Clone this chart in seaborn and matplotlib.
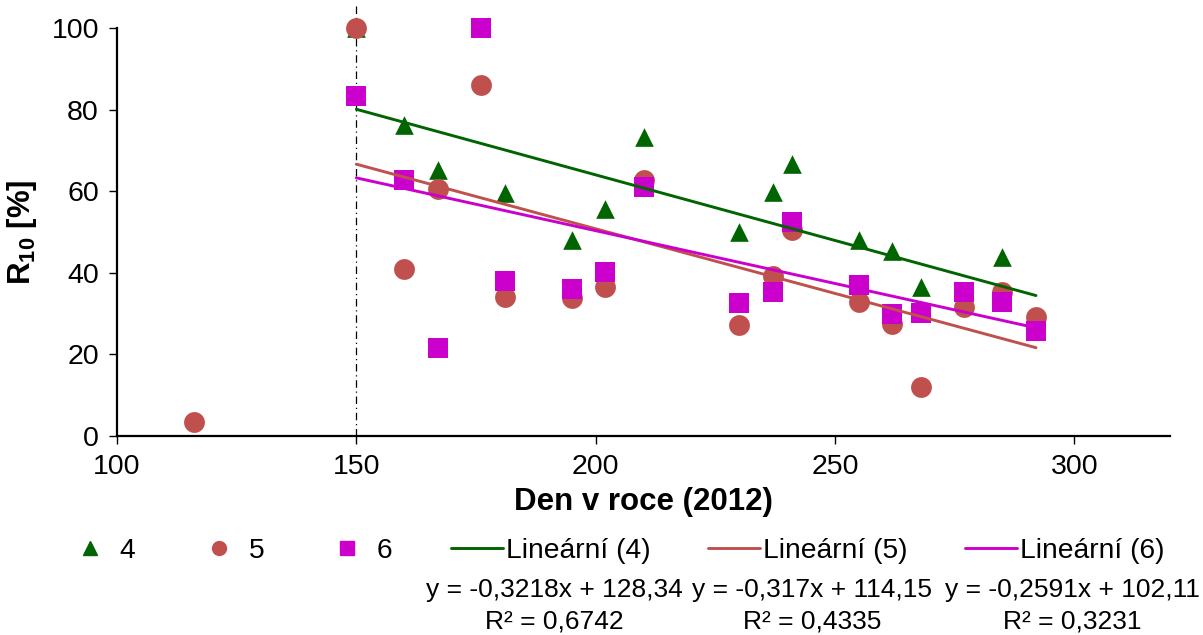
import numpy as np
import pandas as pd
import matplotlib
matplotlib.use("Agg")
import matplotlib.pyplot as plt
from matplotlib.lines import Line2D
import seaborn as sns

# Day of year (2012) and R10 values for the three sites
day4 = [150, 160, 167, 181, 195, 202, 210, 230, 237, 241, 255, 262, 268, 277, 285, 292]
r4 = [100, 76.1, 65.1, 59.6, 47.9, 55.7, 73.3, 49.9, 59.7, 66.7, 47.9, 45.3, 36.5, 35.5, 43.9, 28.0]

day5 = [150, 160, 167, 176, 181, 195, 202, 210, 230, 237, 241, 255, 262, 268, 277, 285, 292]
r5 = [100, 40.8, 60.6, 85.9, 34.1, 33.7, 36.4, 62.7, 27.2, 39.2, 50.5, 32.9, 27.4, 12.0, 31.5, 35.3, 29.2]

day6 = [150, 160, 167, 176, 181, 195, 202, 210, 230, 237, 241, 255, 262, 268, 277, 285, 292]
r6 = [83.2, 62.7, 21.4, 100, 38.0, 36.1, 40.2, 61.0, 32.6, 35.3, 52.3, 37.0, 29.9, 30.2, 35.2, 32.9, 25.8]

# Early measurement outside the fitted period
day_early = [116]
r_early = [3.4]

# Linear trend coefficients (slope, intercept, R^2)
slopes = [-0.3218, -0.317, -0.2591]
intercepts = [128.34, 114.15, 102.11]
r2_vals = [0.6742, 0.4335, 0.3231]

series_names = ["4", "5", "6"]
colors = ["#006400", "#C0504D", "#CC00CC"]
markers = ["^", "o", "s"]
sizes = [180, 225, 215]

x_ticks = [100, 150, 200, 250, 300]
y_ticks = [0, 20, 40, 60, 80, 100]
cutoff_day = 150

sns.set_style("ticks")
plt.rcParams["font.family"] = ["Liberation Sans", "DejaVu Sans"]
plt.rcParams["mathtext.fontset"] = "custom"
plt.rcParams["mathtext.rm"] = "Liberation Sans"
plt.rcParams["mathtext.bf"] = "Liberation Sans:bold"
for key in ["text.color", "axes.labelcolor", "xtick.color", "ytick.color"]:
    plt.rcParams[key] = "black"

W, H = 1203, 635
fig = plt.figure(figsize=(W / 100, H / 100), dpi=100)
ax = fig.add_axes([117 / W, 1 - 435.7 / H, (1170 - 117) / W, (435.7 - 28) / H])

# Vertical marker at the start of the fitted period
ax.plot([cutoff_day, cutoff_day], [0, 105.5], color="black", lw=0.9,
        ls=(0, (6, 3, 1, 3)), clip_on=False, zorder=2)

days = [day4, day5, day6]
vals = [r4, r5, r6]
for i in range(3):
    df = pd.DataFrame({"day": days[i], "r": vals[i]})
    sns.scatterplot(data=df, x="day", y="r", ax=ax, marker=markers[i],
                    color=colors[i], s=sizes[i], linewidth=0, clip_on=False,
                    zorder=3 + i, legend=False)

sns.scatterplot(x=day_early, y=r_early, ax=ax, marker="o", color=colors[1],
                s=sizes[1], linewidth=0, clip_on=False, zorder=4, legend=False)

# Trend lines across each series' range
for i in range(3):
    xs = np.array([min(days[i]), max(days[i])], dtype=float)
    tdf = pd.DataFrame({"day": xs, "fit": slopes[i] * xs + intercepts[i]})
    sns.lineplot(data=tdf, x="day", y="fit", ax=ax, color=colors[i], lw=2.1,
                 zorder=10, legend=False)

ax.set_xlim(100, 320)
ax.set_ylim(0, 100)
ax.set_xticks(x_ticks)
ax.set_yticks(y_ticks)
ax.tick_params(axis="both", direction="out", length=6, width=1, labelsize=20.5,
               color="black", labelcolor="black", pad=7)
for side in ["top", "right"]:
    ax.spines[side].set_visible(False)
for side in ["left", "bottom"]:
    ax.spines[side].set_linewidth(1.6)
    ax.spines[side].set_color("black")

ax.set_xlabel("Den v roce (2012)", fontsize=22.5, fontweight="bold", labelpad=5,
              color="black")
ax.set_ylabel(r"$\mathbf{R}_{\mathbf{10}}$ [%]", fontsize=22.5, fontweight="bold",
              labelpad=9, color="black")

# Legend entries placed along one row under the chart
leg_y = 1 - 551 / H
fs = 20.3
marker_handles = [Line2D([], [], ls="none", marker=markers[i], color=colors[i],
                         markersize=[10, 10, 10][i]) for i in range(3)]
marker_x = [76, 205, 333]
for i in range(3):
    fig.legend(handles=[marker_handles[i]], labels=[series_names[i]],
               loc="center left", bbox_to_anchor=(marker_x[i] / W, leg_y),
               frameon=False, fontsize=fs, handlelength=1.0, handletextpad=0.55,
               borderpad=0, borderaxespad=0, labelcolor="black")

line_x = [451, 708, 965]
centers = [554, 812, 1072]
for i in range(3):
    h = Line2D([], [], color=colors[i], lw=2.1)
    fig.legend(handles=[h], labels=[f"Lineární ({series_names[i]})"],
               loc="center left", bbox_to_anchor=(line_x[i] / W, leg_y),
               frameon=False, fontsize=fs, handlelength=1.85, handletextpad=0.1,
               borderpad=0, borderaxespad=0, labelcolor="black")
    slope_txt = f"{slopes[i]:.4f}".rstrip("0").replace(".", ",")
    icpt_txt = f"{intercepts[i]:.2f}".replace(".", ",")
    r2_txt = f"{r2_vals[i]:.4f}".replace(".", ",")
    fig.text(centers[i] / W, 1 - 590 / H, f"y = {slope_txt}x + {icpt_txt}",
             ha="center", va="center", fontsize=19, color="black")
    fig.text(centers[i] / W, 1 - 621 / H, f"R² = {r2_txt}",
             ha="center", va="center", fontsize=19, color="black")

fig.savefig("out.png", dpi=100)
